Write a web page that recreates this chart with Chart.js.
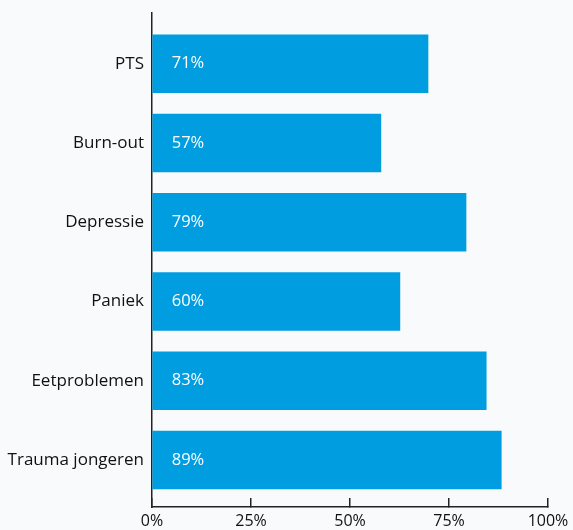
<!DOCTYPE html>
<html>
<head>
<meta charset="utf-8">
<script src="https://cdn.jsdelivr.net/npm/chart.js@4/dist/chart.umd.min.js"></script>
<style>
  html, body { margin: 0; padding: 0; background: #f9fafc; }
  #chart { display: block; }
</style>
</head>
<body>
<canvas id="chart" width="573" height="530"></canvas>
<script>
// categories, top to bottom
const categories = ["PTS", "Burn-out", "Depressie", "Paniek", "Eetproblemen", "Trauma jongeren"];
// bar lengths (percent)
const barValues = [69.7, 57.8, 79.3, 62.6, 84.4, 88.2];
// printed labels inside the bars
const valueLabels = ["71%", "57%", "79%", "60%", "83%", "89%"];
// x axis ticks
const xTicks = [0, 25, 50, 75, 100];

const fontFamily = "'Open Sans', sans-serif";

const barLabelPlugin = {
  id: "barLabels",
  afterDatasetsDraw(chart) {
    const ctx = chart.ctx;
    const meta = chart.getDatasetMeta(0);
    ctx.save();
    ctx.fillStyle = "#ffffff";
    ctx.font = "16.5px " + fontFamily;
    ctx.textAlign = "left";
    ctx.textBaseline = "middle";
    meta.data.forEach((bar, index) => {
      ctx.fillText(valueLabels[index], bar.base + 19, bar.y);
    });
    ctx.restore();
  },
};

new Chart(document.getElementById("chart").getContext("2d"), {
  type: "bar",
  data: {
    datasets: [
      {
        data: barValues.map((value, index) => ({ x: value, y: index })),
        backgroundColor: "#009ee0",
        borderWidth: 0,
        barThickness: 58,
      },
    ],
  },
  options: {
    indexAxis: "y",
    responsive: false,
    animation: false,
    events: [],
    layout: {
      padding: { top: 13, right: 25, bottom: 0, left: 0 },
    },
    plugins: {
      legend: { display: false },
      tooltip: { enabled: false },
    },
    scales: {
      x: {
        type: "linear",
        bounds: "data",
        min: 0,
        max: 100,
        afterBuildTicks: (scale) => {
          scale.ticks = xTicks.map((value) => ({ value }));
        },
        afterFit: (scale) => {
          scale.height = 23;
          scale.paddingLeft = 0;
          scale.paddingRight = 0;
        },
        grid: {
          drawOnChartArea: false,
          drawTicks: true,
          tickLength: -9,
          color: "#222222",
          lineWidth: 1.5,
        },
        border: { display: true, color: "#222222", width: 1.5 },
        ticks: {
          padding: 14,
          color: "#111111",
          font: { family: fontFamily, size: 16 },
          callback: (value) => value + "%",
        },
      },
      y: {
        type: "linear",
        bounds: "data",
        offset: false,
        reverse: true,
        min: -0.641,
        max: 5.593,
        afterBuildTicks: (scale) => {
          scale.ticks = categories.map((_, index) => ({ value: index }));
        },
        afterFit: (scale) => {
          scale.width = 152;
          scale.paddingTop = 0;
          scale.paddingBottom = 0;
        },
        grid: { display: false, drawTicks: false, offset: false },
        border: { display: true, color: "#222222", width: 1.5 },
        ticks: {
          padding: 8,
          color: "#111111",
          font: { family: fontFamily, size: 17 },
          callback: (value) => categories[value] ?? "",
        },
      },
    },
  },
  plugins: [barLabelPlugin],
});
</script>
</body>
</html>
